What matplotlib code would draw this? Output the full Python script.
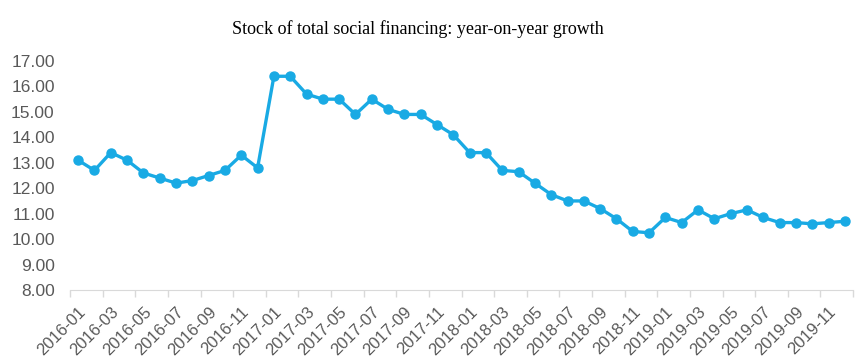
import numpy as np
import matplotlib.pyplot as plt

# monthly labels 2016-01 .. 2019-12
months = [f"{y}-{m:02d}" for y in range(2016, 2020) for m in range(1, 13)]
growth = [13.1, 12.7, 13.4, 13.1, 12.6, 12.4, 12.2, 12.3, 12.5, 12.7, 13.3, 12.8,
          16.4, 16.4, 15.7, 15.5, 15.5, 14.9, 15.5, 15.1, 14.9, 14.9, 14.5, 14.1,
          13.4, 13.4, 12.7, 12.65, 12.2, 11.75, 11.5, 11.5, 11.2, 10.8, 10.3, 10.25,
          10.85, 10.65, 11.15, 10.8, 11.0, 11.15, 10.85, 10.65, 10.65, 10.6, 10.65, 10.7]
yticks = [8, 9, 10, 11, 12, 13, 14, 15, 16, 17]

fig = plt.figure(figsize=(8.63, 3.64), dpi=100)
ax = fig.add_axes([70 / 863, 1 - 290 / 364, 783 / 863, 229 / 364])

x = np.arange(len(months))
ax.plot(x, growth, '-o', color='#19aae4', linewidth=2.4, markersize=6.5)

ax.set_xlim(-0.5, len(months) - 0.5)
ax.set_ylim(8, 17)

# category labels every 2 months, tick marks on category boundaries
ax.set_xticks(x[::2])
ax.set_xticklabels(months[::2], rotation=45, ha='right', rotation_mode='anchor',
                   family='Liberation Sans', fontsize=12, color='#595959')
ax.set_xticks(np.arange(-0.5, len(months), 2), minor=True)
ax.tick_params(axis='x', which='major', length=0, pad=10)
ax.tick_params(axis='x', which='minor', length=5, color='#d9d9d9', width=1)

ax.set_yticks(yticks)
ax.set_yticklabels([f"{v:.2f}" for v in yticks], family='Liberation Sans',
                   fontsize=12.5, color='#595959')
ax.tick_params(axis='y', length=0, pad=11)

for s in ['top', 'right', 'left']:
    ax.spines[s].set_visible(False)
ax.spines['bottom'].set_color('#d9d9d9')

fig.text(0.484, 0.92, "Stock of total social financing: year-on-year growth",
         ha='center', va='center', family='Liberation Serif', fontsize=13)

fig.savefig("out.png", dpi=100)
